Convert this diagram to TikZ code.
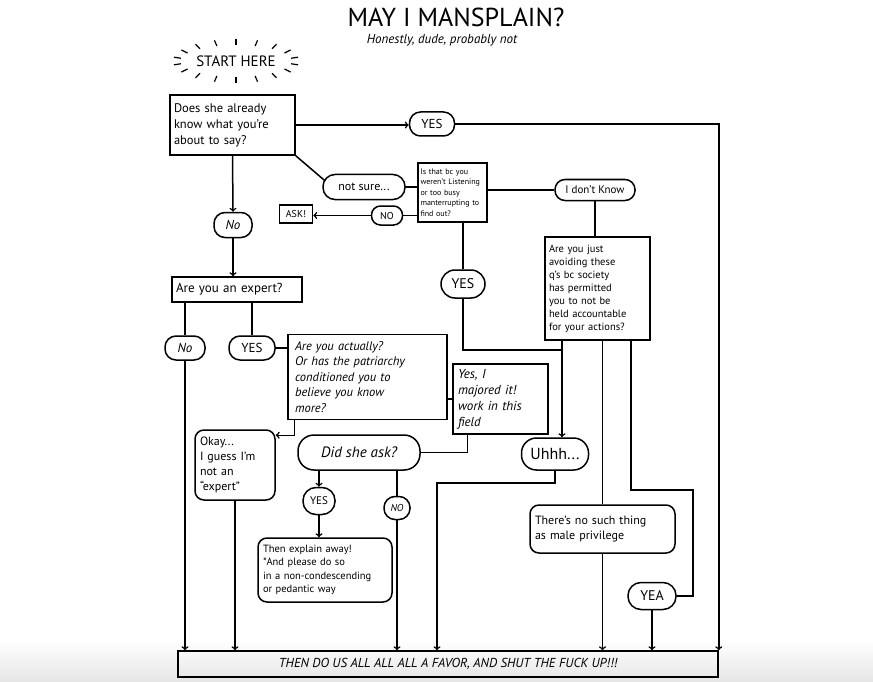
\documentclass[tikz,border=0pt]{standalone}
\usepackage{fontspec}
\setmainfont{PT Sans}
\usetikzlibrary{calc,positioning,arrows}

\begin{document}
\begin{tikzpicture}[x=1pt,y=-1pt,line width=1.5pt,
  qbox/.style={draw,align=left,inner sep=4pt},
  pill/.style={draw,rounded corners=#1,inner sep=0pt,align=center},
  pill/.default=11pt,
  rbox/.style={draw,rounded corners=9pt,align=left,inner sep=5pt},
  flow/.style={->}]
      \useasboundingbox (0,0) rectangle (873,682);
      \shade[top color=white,bottom color=black!10,draw=none] (0,640) rectangle (873,682);

      % heading
      \node[font=\fontsize{26}{30}\selectfont] (title) at (456,17) {MAY I MANSPLAIN?};
      \node[font=\itshape\fontsize{13}{15}\selectfont] (sub) at (442,40) {Honestly, dude, probably not};
      \node[font=\fontsize{15}{18}\selectfont] (start) at (236,61) {START HERE};
      \foreach \a in {10,30,...,350}
        \draw[line width=1.2pt] ($(start)+(\a:56 and 16)$) -- ($(start)+(\a:63 and 22)$);

      % questions and answers
      \node[qbox,text width=117pt,minimum height=60pt,font=\fontsize{12.5}{16}\selectfont] (know) at (232.5,125) {Does she already\\know what you're\\about to say?};
      \node[pill,minimum width=45pt,minimum height=24pt,font=\fontsize{13}{15}\selectfont] (yesA) at (432,124) {YES};
      \node[pill,minimum width=38pt,minimum height=25pt,font=\itshape\fontsize{13}{15}\selectfont] (noA) at (233,225) {No};
      \node[qbox,text width=122pt,minimum height=25pt,font=\fontsize{13}{15}\selectfont] (expert) at (237,289.5) {Are you an expert?};
      \node[pill=12pt,minimum width=82pt,minimum height=25pt,font=\fontsize{12}{14}\selectfont] (notsure) at (364,187) {not sure...};
      \node[qbox,inner sep=2.5pt,text width=64pt,minimum height=59pt,font=\fontsize{8}{10.5}\selectfont] (listen) at (452.5,192.5) {Is that bc you\\weren't Listening\\or too busy\\manterrupting to\\find out?};
      \node[pill=9pt,minimum width=31pt,minimum height=19pt,font=\fontsize{10}{12}\selectfont] (noB) at (387,215.5) {NO};
      \node[qbox,inner sep=2pt,minimum width=33pt,minimum height=18pt,font=\fontsize{10}{12}\selectfont] (ask) at (296,214) {ASK!};
      \node[pill=10pt,minimum width=80pt,minimum height=21pt,font=\fontsize{11}{13}\selectfont] (dunno) at (595,190) {I don't Know};
      \node[qbox,text width=97pt,minimum height=103pt,font=\fontsize{10.5}{13}\selectfont] (avoid) at (597.5,288.5) {Are you just\\avoiding these\\q's bc society\\has permitted\\you to not be\\held accountable\\for your actions?};
      \node[pill=14pt,minimum width=44pt,minimum height=28pt,font=\fontsize{14}{16}\selectfont] (yesB) at (463,284) {YES};
      \node[pill,minimum width=40pt,minimum height=24pt,font=\itshape\fontsize{13}{15}\selectfont] (noC) at (185,348) {No};
      \node[pill,minimum width=46pt,minimum height=24pt,font=\fontsize{13}{15}\selectfont] (yesC) at (252,348) {YES};
      \node[qbox,inner sep=7pt,text width=145pt,minimum height=84pt,font=\itshape\fontsize{12.5}{15.5}\selectfont] (actually) at (367.5,377) {Are you actually?\\Or has the patriarchy\\conditioned you to\\believe you know\\more?};
      \node[qbox,inner sep=5pt,text width=85pt,minimum height=68pt,font=\itshape\fontsize{13}{16}\selectfont] (majored) at (500.5,399) {Yes, I\\majored it!\\work in this\\field};
      \node[rbox,text width=70pt,minimum height=70pt,font=\fontsize{12}{15}\selectfont] (okay) at (235,465) {Okay...\\I guess I'm\\not an\\``expert''};
      \node[pill=16pt,minimum width=122pt,minimum height=35pt,font=\itshape\fontsize{15}{17}\selectfont] (didask) at (359,452.5) {Did she ask?};
      \node[pill=13pt,minimum width=32pt,minimum height=27pt,font=\fontsize{11}{13}\selectfont] (yesD) at (319,501) {YES};
      \node[pill=11pt,minimum width=26pt,minimum height=23pt,font=\itshape\fontsize{10}{12}\selectfont] (noD) at (397,508) {NO};
      \node[rbox,text width=124pt,minimum height=64pt,font=\fontsize{10.5}{13.5}\selectfont] (explain) at (325,570) {Then explain away!\\{*}And please do so\\in a non-condescending\\or pedantic way};
      \node[pill=15pt,minimum width=67pt,minimum height=32pt,font=\fontsize{16}{18}\selectfont] (uhhh) at (555,454) {Uhhh...};
      \node[rbox,text width=135pt,minimum height=48pt,font=\fontsize{12}{15}\selectfont] (nosuch) at (602.5,529) {There's no such thing\\as male privilege};
      \node[pill=13pt,minimum width=48pt,minimum height=27pt,font=\fontsize{14}{16}\selectfont] (yea) at (652,596) {YEA};
      \node[qbox,minimum width=540pt,minimum height=26pt,align=center,font=\itshape\fontsize{13}{15}\selectfont] (final) at (448,664) {THEN DO US ALL ALL ALL A FAVOR, AND SHUT THE FUCK UP!!!};

      % joints
      \coordinate (mergeA) at (562,350);
      \coordinate (turnU) at (437,483);
      \coordinate (jogA) at (631,490);
      \coordinate (jogB) at (693,490);

      % connectors
      \draw[flow] (know.east) -- (know.east -| yesA.west);
      \draw[flow] (yesA.east) -| (final.north east);
      \draw[flow] (know.south) -- (noA.north);
      \draw[flow] (noA.south) -- (noA.south |- expert.north);
      \draw (know.south east) -- ([shift={(3,-6)}]notsure.west);
      \draw (notsure.east) -- (notsure.east -| listen.west);
      \draw (listen.west |- noB) -- (noB.east);
      \draw[flow] (noB.west) -- (noB.west -| ask.east);
      \draw (listen.east |- dunno) -- (dunno.west);
      \draw (dunno.south) -- (dunno.south |- avoid.north);
      \draw (yesB.north |- listen.south) -- (yesB.north);
      \draw (yesB.south) |- (mergeA);
      \draw[flow] (mergeA |- avoid.south) -- (mergeA |- uhhh.north);
      \draw[flow] (uhhh.south) |- (turnU) -- (turnU |- final.north);
      \draw (nosuch.north |- avoid.south) -- (nosuch.north);
      \draw[flow] (nosuch.south) -- (nosuch.south |- final.north);
      \draw (jogA |- avoid.south) -- (jogA) -- (jogB) |- (yea.east);
      \draw[flow] (yea.south) -- (yea.south |- final.north);
      \draw (noC.north |- expert.south) -- (noC.north);
      \draw[flow] (noC.south) -- (noC.south |- final.north);
      \draw (yesC.north |- expert.south) -- (yesC.north);
      \draw (yesC.east) -- (yesC.east -| actually.west);
      \draw[flow] ([xshift=7pt]actually.south west) |- ([yshift=-6pt]okay.north east);
      \draw (actually.east |- majored.west) -- (majored.west);
      \draw ([xshift=-33pt]majored.south) |- (didask.east);
      \draw[flow] (yesD.north |- didask.south) -- (yesD.north);
      \draw[flow] (yesD.south) -- (yesD.south |- explain.north);
      \draw (noD.north |- didask.south) -- (noD.north);
      \draw[flow] (noD.south) -- (noD.south |- final.north);
      \draw[flow] (okay.south) -- (okay.south |- final.north);
\end{tikzpicture}
\end{document}
